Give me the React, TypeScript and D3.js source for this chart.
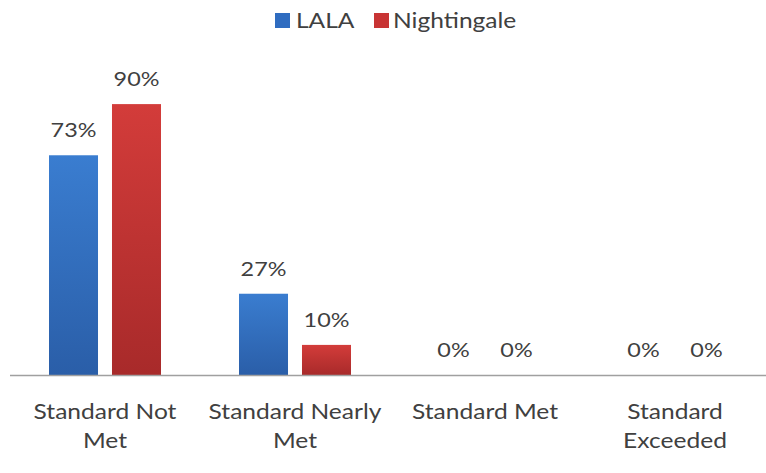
import React from "react";
import * as d3 from "d3";

const categories = [["Standard Not", "Met"], ["Standard Nearly", "Met"], ["Standard Met"], ["Standard", "Exceeded"]];
const seriesNames = ["LALA", "Nightingale"];
const lalaValues = [73, 27, 0, 0];
const nightingaleValues = [90, 10, 0, 0];

const W = 766, H = 473;
const FONT = "Lato, 'Open Sans', sans-serif";
const TEXT = "#404040";
const SX = 1.17;

function T({ x, y, anchor = "middle", size = 21, children }: { x: number; y: number; anchor?: string; size?: number; children: React.ReactNode }) {
  return (
    <g transform={`translate(${x},${y}) scale(${SX},1)`}>
      <text x={0} y={0} textAnchor={anchor} fontFamily={FONT} fontSize={size} fill={TEXT}>{children}</text>
    </g>
  );
}

export default function App() {
  const x = d3.scaleBand<number>().domain(d3.range(categories.length)).range([10, 770]);
  const y = d3.scaleLinear().domain([0, 100]).range([375, 74]);
  const inner = d3.scaleBand<number>().domain([0, 1]).range([0, 112]).paddingInner(0.222);
  const series = [lalaValues, nightingaleValues];
  const grads = ["gBlue", "gRed"];
  const legendColors = ["#2f6cc0", "#c83434"];
  return (
    <svg width={W} height={H} style={{ position: "absolute", left: 0, top: 0 }}>
      <defs>
        <linearGradient id="gBlue" x1="0" y1="0" x2="0" y2="1">
          <stop offset="0" stopColor="#3a7dd0" />
          <stop offset="1" stopColor="#2a5ea8" />
        </linearGradient>
        <linearGradient id="gRed" x1="0" y1="0" x2="0" y2="1">
          <stop offset="0" stopColor="#d33c3a" />
          <stop offset="1" stopColor="#a82a2a" />
        </linearGradient>
      </defs>
      <rect width={W} height={H} fill="#fff" />
      {/* legend */}
      <rect x={275} y={13} width={15} height={15} fill={legendColors[0]} />
      <T x={296} y={28} anchor="start">{seriesNames[0]}</T>
      <rect x={374} y={13} width={15} height={15} fill={legendColors[1]} />
      <T x={393} y={28} anchor="start">{seriesNames[1]}</T>
      {categories.map((cat, i) => {
        const cx = (x(i) as number) + x.bandwidth() / 2;
        const gx = cx - 56;
        return (
          <g key={i}>
            {series.map((vals, s) => {
              const bx = gx + (inner(s) as number);
              const bw = inner.bandwidth();
              return (
                <g key={s}>
                  {vals[i] > 0 && (
                    <rect x={bx} y={y(vals[i])} width={bw} height={y(0) - y(vals[i])} fill={`url(#${grads[s]})`} />
                  )}
                  <T x={bx + bw / 2} y={y(vals[i]) - 18} size={20}>{vals[i]}%</T>
                </g>
              );
            })}
            {cat.map((line, k) => (
              <T key={k} x={cx} y={419 + k * 29}>{line}</T>
            ))}
          </g>
        );
      })}
      <line x1={10} x2={W} y1={375.5} y2={375.5} stroke="#a0a0a0" strokeWidth={1.5} />
    </svg>
  );
}
